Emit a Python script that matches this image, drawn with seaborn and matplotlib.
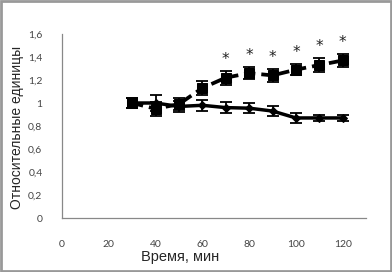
import matplotlib
matplotlib.use('Agg')
import matplotlib.pyplot as plt
import seaborn as sns
import numpy as np
import pandas as pd
from matplotlib.patches import Rectangle

time_min = [30, 40, 50, 60, 70, 80, 90, 100, 110, 120]
control = [1.0, 1.0, 0.97, 0.98, 0.96, 0.955, 0.93, 0.87, 0.87, 0.87]
control_err = [0.04, 0.07, 0.05, 0.05, 0.05, 0.045, 0.04, 0.04, 0.03, 0.03]
treated = [1.0, 0.95, 0.99, 1.13, 1.22, 1.26, 1.24, 1.29, 1.33, 1.37]
treated_err = [0.04, 0.06, 0.05, 0.06, 0.06, 0.055, 0.06, 0.05, 0.06, 0.06]
significant = [False, False, False, False, True, True, True, True, True, True]

x_ticks = [0, 20, 40, 60, 80, 100, 120]
y_ticks = [0, 0.2, 0.4, 0.6, 0.8, 1.0, 1.2, 1.4, 1.6]
y_tick_labels = ['0', '0,2', '0,4', '0,6', '0,8', '1', '1,2', '1,4', '1,6']

df = pd.DataFrame({'t': time_min, 'control': control, 'treated': treated})

sns.set_style('white')
plt.rcParams['font.family'] = ['Liberation Sans', 'DejaVu Sans']

fig = plt.figure(figsize=(3.92, 2.72), dpi=100)
ax = fig.add_axes([0.158, 0.1985, 0.776, 0.6765])

sns.lineplot(data=df, x='t', y='control', ax=ax, color='black', linewidth=2.5,
             marker='D', markersize=4, markeredgecolor='black')
ax.errorbar(time_min, control, yerr=control_err, fmt='none', ecolor='black',
            elinewidth=1.3, capsize=4, capthick=1.3)
sns.lineplot(data=df, x='t', y='treated', ax=ax, color='black', linewidth=2.7,
             marker='s', markersize=6.5, markeredgecolor='black')
ax.lines[-1].set_dashes([3, 1.6])
ax.errorbar(time_min, treated, yerr=treated_err, fmt='none', ecolor='black',
            elinewidth=1.3, capsize=4, capthick=1.3)

for t, v, e, s in zip(time_min, treated, treated_err, significant):
    if s:
        ax.text(t, v + e + 0.1, '*', ha='center', va='center', fontsize=11,
                family='DejaVu Sans', color='#222222', clip_on=False)

ax.set_xlim(0, 130)
ax.set_ylim(0, 1.6)
ax.set_xticks(x_ticks)
ax.set_yticks(y_ticks)
ax.set_yticklabels(y_tick_labels)
ax.tick_params(axis='both', labelsize=7.5, colors='#888888', labelcolor='#444444',
               length=3, width=0.8)
ax.tick_params(axis='x', direction='inout', pad=14)
ax.tick_params(axis='y', direction='out', pad=11)
for lbl in ax.get_xticklabels() + ax.get_yticklabels():
    lbl.set_family(['Lato', 'DejaVu Sans'])
sns.despine(ax=ax)
for side in ['left', 'bottom']:
    ax.spines[side].set_color('#888888')
    ax.spines[side].set_linewidth(0.9)

ax.set_xlabel('Время, мин', fontsize=10.5)
ax.xaxis.set_label_coords(0.388, -0.175)
ax.set_ylabel('Относительные единицы', fontsize=10)
ax.yaxis.set_label_coords(-0.125, 0.49)

fig.patches.append(Rectangle((0.003, 0.004), 0.994, 0.992, transform=fig.transFigure,
                             facecolor='none', edgecolor='#999999', linewidth=2, zorder=21))

fig.savefig('out.png', dpi=100)
